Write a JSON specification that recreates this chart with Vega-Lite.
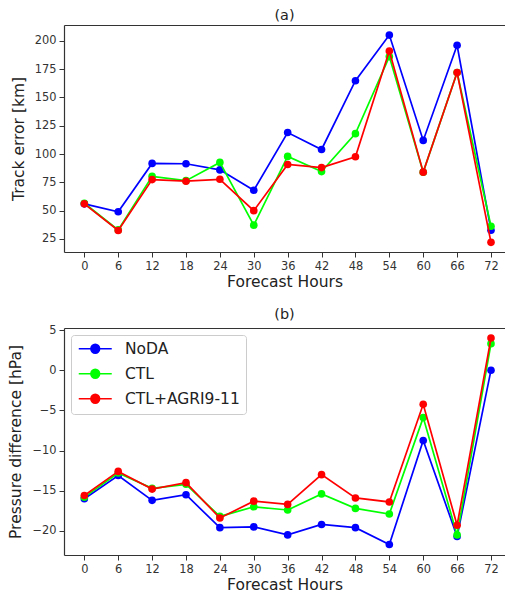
{
  "$schema": "https://vega.github.io/schema/vega-lite/v6.json",
  "padding": {"left": 8, "top": 7, "right": 0, "bottom": 0},
  "autosize": {"type": "pad"},
  "config": {
    "font": "DejaVu Sans",
    "view": {"stroke": null},
    "axis": {
      "labelFont": "DejaVu Sans", "labelFontSize": 11.4, "labelColor": "#333333",
      "titleFont": "DejaVu Sans", "titleFontSize": 15.5, "titleFontWeight": "normal", "titleColor": "#222222",
      "domainColor": "#333333", "tickColor": "#333333", "tickSize": 5, "domainWidth": 1.2, "tickWidth": 1,
      "grid": false, "labelPadding": 3, "titlePadding": 3
    },
    "axisY": {"titlePadding": 8},
    "title": {"font": "DejaVu Sans", "fontSize": 14.4, "fontWeight": "normal", "color": "#222222", "offset": 2},
    "concat": {"spacing": 16}
  },
  "resolve": {"scale": {"color": "independent"}},
  "datasets": {
    "a": [
      {"h": 0, "s": "NoDA", "v": 56}, {"h": 6, "s": "NoDA", "v": 49}, {"h": 12, "s": "NoDA", "v": 91.7}, {"h": 18, "s": "NoDA", "v": 91.4}, {"h": 24, "s": "NoDA", "v": 86}, {"h": 30, "s": "NoDA", "v": 68}, {"h": 36, "s": "NoDA", "v": 119}, {"h": 42, "s": "NoDA", "v": 104}, {"h": 48, "s": "NoDA", "v": 164.7}, {"h": 54, "s": "NoDA", "v": 205}, {"h": 60, "s": "NoDA", "v": 112}, {"h": 66, "s": "NoDA", "v": 196}, {"h": 72, "s": "NoDA", "v": 32.7},
      {"h": 0, "s": "CTL", "v": 56.5}, {"h": 6, "s": "CTL", "v": 33}, {"h": 12, "s": "CTL", "v": 80.3}, {"h": 18, "s": "CTL", "v": 76.5}, {"h": 24, "s": "CTL", "v": 92.6}, {"h": 30, "s": "CTL", "v": 37.2}, {"h": 36, "s": "CTL", "v": 97.9}, {"h": 42, "s": "CTL", "v": 84.5}, {"h": 48, "s": "CTL", "v": 118}, {"h": 54, "s": "CTL", "v": 186}, {"h": 60, "s": "CTL", "v": 84}, {"h": 66, "s": "CTL", "v": 172}, {"h": 72, "s": "CTL", "v": 36.2},
      {"h": 0, "s": "CTL+AGRI9-11", "v": 56}, {"h": 6, "s": "CTL+AGRI9-11", "v": 32.5}, {"h": 12, "s": "CTL+AGRI9-11", "v": 77.4}, {"h": 18, "s": "CTL+AGRI9-11", "v": 76}, {"h": 24, "s": "CTL+AGRI9-11", "v": 77.7}, {"h": 30, "s": "CTL+AGRI9-11", "v": 50}, {"h": 36, "s": "CTL+AGRI9-11", "v": 90.8}, {"h": 42, "s": "CTL+AGRI9-11", "v": 88}, {"h": 48, "s": "CTL+AGRI9-11", "v": 97.6}, {"h": 54, "s": "CTL+AGRI9-11", "v": 191}, {"h": 60, "s": "CTL+AGRI9-11", "v": 84}, {"h": 66, "s": "CTL+AGRI9-11", "v": 172}, {"h": 72, "s": "CTL+AGRI9-11", "v": 22}
    ],
    "b": [
      {"h": 0, "s": "NoDA", "v": -16.0}, {"h": 6, "s": "NoDA", "v": -13.1}, {"h": 12, "s": "NoDA", "v": -16.2}, {"h": 18, "s": "NoDA", "v": -15.5}, {"h": 24, "s": "NoDA", "v": -19.6}, {"h": 30, "s": "NoDA", "v": -19.5}, {"h": 36, "s": "NoDA", "v": -20.5}, {"h": 42, "s": "NoDA", "v": -19.2}, {"h": 48, "s": "NoDA", "v": -19.6}, {"h": 54, "s": "NoDA", "v": -21.7}, {"h": 60, "s": "NoDA", "v": -8.75}, {"h": 66, "s": "NoDA", "v": -20.7}, {"h": 72, "s": "NoDA", "v": 0},
      {"h": 0, "s": "CTL", "v": -15.8}, {"h": 6, "s": "CTL", "v": -12.8}, {"h": 12, "s": "CTL", "v": -14.7}, {"h": 18, "s": "CTL", "v": -14.2}, {"h": 24, "s": "CTL", "v": -18.2}, {"h": 30, "s": "CTL", "v": -17.0}, {"h": 36, "s": "CTL", "v": -17.4}, {"h": 42, "s": "CTL", "v": -15.4}, {"h": 48, "s": "CTL", "v": -17.2}, {"h": 54, "s": "CTL", "v": -17.9}, {"h": 60, "s": "CTL", "v": -5.9}, {"h": 66, "s": "CTL", "v": -20.5}, {"h": 72, "s": "CTL", "v": 3.3},
      {"h": 0, "s": "CTL+AGRI9-11", "v": -15.6}, {"h": 6, "s": "CTL+AGRI9-11", "v": -12.6}, {"h": 12, "s": "CTL+AGRI9-11", "v": -14.8}, {"h": 18, "s": "CTL+AGRI9-11", "v": -14.0}, {"h": 24, "s": "CTL+AGRI9-11", "v": -18.4}, {"h": 30, "s": "CTL+AGRI9-11", "v": -16.3}, {"h": 36, "s": "CTL+AGRI9-11", "v": -16.7}, {"h": 42, "s": "CTL+AGRI9-11", "v": -13.0}, {"h": 48, "s": "CTL+AGRI9-11", "v": -15.9}, {"h": 54, "s": "CTL+AGRI9-11", "v": -16.4}, {"h": 60, "s": "CTL+AGRI9-11", "v": -4.25}, {"h": 66, "s": "CTL+AGRI9-11", "v": -19.3}, {"h": 72, "s": "CTL+AGRI9-11", "v": 4.0}
    ]
  },
  "vconcat": [
    {
      "title": "(a)",
      "width": 441,
      "height": 227,
      "data": {"name": "a"},
      "resolve": {"axis": {"x": "independent", "y": "independent"}},
      "layer": [
        {
          "transform": [{"filter": "datum.s === 'NoDA'"}],
          "mark": {"type": "line", "strokeWidth": 1.7, "point": {"filled": true, "size": 58, "opacity": 1}},
          "encoding": {
            "x": {"field": "h", "type": "quantitative", "scale": {"domain": [-3.6, 74.48], "nice": false, "zero": false},
                  "axis": {"values": [0, 6, 12, 18, 24, 30, 36, 42, 48, 54, 60, 66, 72], "format": "d", "title": "Forecast Hours"}},
            "y": {"field": "v", "type": "quantitative", "scale": {"domain": [13.5, 213.9], "nice": false, "zero": false},
                  "axis": {"values": [25, 50, 75, 100, 125, 150, 175, 200], "format": "d", "title": "Track error [km]"}},
            "color": {"field": "s", "type": "nominal", "scale": {"domain": ["NoDA", "CTL", "CTL+AGRI9-11"], "range": ["#0000ff", "#00ff00", "#ff0000"]}, "legend": null}
          }
        },
        {
          "transform": [{"filter": "datum.s === 'CTL'"}],
          "mark": {"type": "line", "strokeWidth": 1.7, "point": {"filled": true, "size": 58, "opacity": 1}},
          "encoding": {
            "x": {"field": "h", "type": "quantitative", "axis": null},
            "y": {"field": "v", "type": "quantitative", "axis": null},
            "color": {"field": "s", "type": "nominal", "legend": null}
          }
        },
        {
          "transform": [{"filter": "datum.s === 'CTL+AGRI9-11'"}],
          "mark": {"type": "line", "strokeWidth": 1.7, "point": {"filled": true, "size": 58, "opacity": 1}},
          "encoding": {
            "x": {"field": "h", "type": "quantitative", "axis": null},
            "y": {"field": "v", "type": "quantitative", "axis": null},
            "color": {"field": "s", "type": "nominal", "legend": null}
          }
        },
        {
          "mark": {"type": "point", "opacity": 0},
          "encoding": {
            "x": {"field": "h", "type": "quantitative", "axis": {"orient": "top", "labels": false, "ticks": false, "title": null}},
            "y": {"field": "v", "type": "quantitative", "axis": null}
          }
        }
      ]
    },
    {
      "title": "(b)",
      "width": 441,
      "height": 227,
      "data": {"name": "b"},
      "resolve": {"axis": {"x": "independent", "y": "independent"}},
      "layer": [
        {
          "transform": [{"filter": "datum.s === 'NoDA'"}],
          "mark": {"type": "line", "strokeWidth": 1.7, "point": {"filled": true, "size": 58, "opacity": 1}},
          "encoding": {
            "x": {"field": "h", "type": "quantitative", "scale": {"domain": [-3.6, 74.48], "nice": false, "zero": false},
                  "axis": {"values": [0, 6, 12, 18, 24, 30, 36, 42, 48, 54, 60, 66, 72], "format": "d", "title": "Forecast Hours"}},
            "y": {"field": "v", "type": "quantitative", "scale": {"domain": [-23.0, 5.25], "nice": false, "zero": false},
                  "axis": {"values": [-20, -15, -10, -5, 0, 5], "format": "d", "title": "Pressure difference [hPa]"}},
            "color": {"field": "s", "type": "nominal", "scale": {"domain": ["NoDA", "CTL", "CTL+AGRI9-11"], "range": ["#0000ff", "#00ff00", "#ff0000"]},
                      "legend": {
                        "title": null, "orient": "top-left", "offset": 7,
                        "symbolType": "M-2.75,0L2.75,0M-0.717,0A0.717,0.717,0,1,0,0.717,0A0.717,0.717,0,1,0,-0.717,0Z",
                        "symbolSize": 144, "symbolOffset": 10.5, "symbolStrokeWidth": 1.7,
                        "labelFont": "DejaVu Sans", "labelFontSize": 15.5, "labelColor": "#222222", "labelOffset": 22,
                        "padding": 6, "rowPadding": 8, "cornerRadius": 3,
                        "strokeColor": "#cccccc", "fillColor": "rgba(255,255,255,0.8)",
                        "encode": {"symbols": {"update": {
                          "fill": {"signal": "datum.value === 'NoDA' ? '#0000ff' : datum.value === 'CTL' ? '#00ff00' : '#ff0000'"},
                          "stroke": {"signal": "datum.value === 'NoDA' ? '#0000ff' : datum.value === 'CTL' ? '#00ff00' : '#ff0000'"},
                          "opacity": {"value": 1}, "fillOpacity": {"value": 1}, "strokeOpacity": {"value": 1}
                        }}}
                      }}
          }
        },
        {
          "transform": [{"filter": "datum.s === 'CTL'"}],
          "mark": {"type": "line", "strokeWidth": 1.7, "point": {"filled": true, "size": 58, "opacity": 1}},
          "encoding": {
            "x": {"field": "h", "type": "quantitative", "axis": null},
            "y": {"field": "v", "type": "quantitative", "axis": null},
            "color": {"field": "s", "type": "nominal"}
          }
        },
        {
          "transform": [{"filter": "datum.s === 'CTL+AGRI9-11'"}],
          "mark": {"type": "line", "strokeWidth": 1.7, "point": {"filled": true, "size": 58, "opacity": 1}},
          "encoding": {
            "x": {"field": "h", "type": "quantitative", "axis": null},
            "y": {"field": "v", "type": "quantitative", "axis": null},
            "color": {"field": "s", "type": "nominal"}
          }
        },
        {
          "mark": {"type": "point", "opacity": 0},
          "encoding": {
            "x": {"field": "h", "type": "quantitative", "axis": {"orient": "top", "labels": false, "ticks": false, "title": null}},
            "y": {"field": "v", "type": "quantitative", "axis": null}
          }
        }
      ]
    }
  ]
}
